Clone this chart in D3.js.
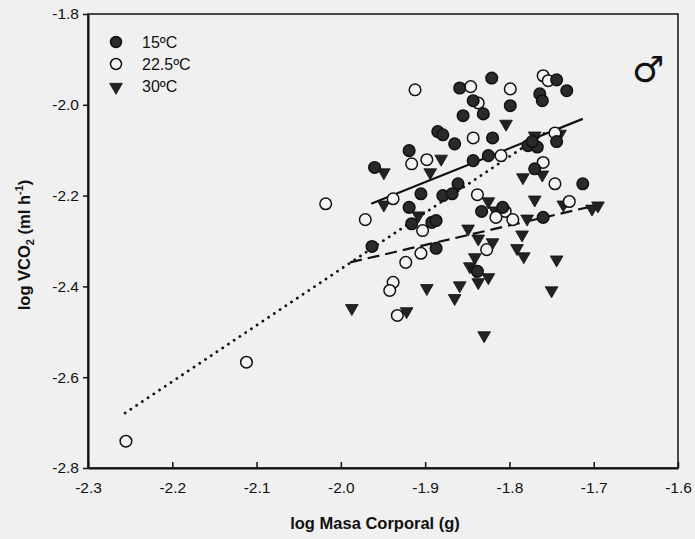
<!DOCTYPE html>
<html>
<head>
  <style>
    body, html { margin: 0; padding: 0; background: #f0f0f0; }
    svg { display: block; }
    text { font-family: "Liberation Sans", Arial, sans-serif; fill: #111; }
  </style>
</head>
<body>
  <svg id="svg" width="695" height="539"></svg>
  <script src="https://d3js.org/d3.v7.min.js"></script>
  <script>
    // log body mass (g) vs log VCO2 (ml h-1)
    const xTicks = [-2.3, -2.2, -2.1, -2.0, -1.9, -1.8, -1.7, -1.6]
    const yTicks = [-2.8, -2.6, -2.4, -2.2, -2.0, -1.8]
    const temps = ["15ºC", "22.5ºC", "30ºC"]

    const t15 = [
      [-1.960, -2.138], [-1.859, -1.963], [-1.821, -1.941], [-1.744, -1.945], [-1.732, -1.969],
      [-1.764, -1.976], [-1.761, -1.991], [-1.843, -1.991], [-1.799, -2.002], [-1.855, -2.024],
      [-1.831, -2.020], [-1.885, -2.059], [-1.879, -2.066], [-1.865, -2.086], [-1.820, -2.073],
      [-1.919, -2.101], [-1.843, -2.123], [-1.825, -2.112], [-1.778, -2.090], [-1.767, -2.093],
      [-1.773, -2.081], [-1.744, -2.081], [-1.770, -2.141], [-1.861, -2.174], [-1.713, -2.174],
      [-1.905, -2.196], [-1.879, -2.200], [-1.868, -2.196], [-1.919, -2.226], [-1.916, -2.262],
      [-1.892, -2.259], [-1.887, -2.255], [-1.833, -2.235], [-1.808, -2.226], [-1.760, -2.248],
      [-1.963, -2.312], [-1.887, -2.316], [-1.838, -2.367]
    ]
    const t225 = [
      [-1.912, -1.967], [-1.846, -1.960], [-1.799, -1.965], [-1.760, -1.936], [-1.754, -1.947],
      [-1.837, -1.996], [-1.843, -2.073], [-1.916, -2.130], [-1.898, -2.121], [-1.810, -2.112],
      [-1.746, -2.062], [-1.760, -2.127], [-1.746, -2.174], [-1.938, -2.207], [-1.838, -2.198],
      [-1.729, -2.213], [-2.018, -2.218], [-1.971, -2.253], [-1.903, -2.277], [-1.805, -2.235],
      [-1.816, -2.248], [-1.796, -2.253], [-1.827, -2.319], [-1.905, -2.327], [-1.923, -2.347],
      [-1.938, -2.391], [-1.942, -2.409], [-1.933, -2.464], [-2.112, -2.567], [-2.255, -2.741]
    ]
    const t30 = [
      [-1.804, -2.042], [-1.881, -2.119], [-1.894, -2.149], [-1.949, -2.149], [-1.770, -2.068],
      [-1.740, -2.064], [-1.761, -2.154], [-1.784, -2.160], [-1.825, -2.213], [-1.770, -2.209],
      [-1.736, -2.220], [-1.702, -2.229], [-1.695, -2.222], [-1.949, -2.220], [-1.908, -2.244],
      [-1.817, -2.233], [-1.779, -2.251], [-1.849, -2.273], [-1.837, -2.295], [-1.820, -2.303],
      [-1.785, -2.286], [-1.791, -2.316], [-1.783, -2.334], [-1.744, -2.341], [-1.841, -2.336],
      [-1.847, -2.356], [-1.841, -2.365], [-1.825, -2.380], [-1.837, -2.391], [-1.859, -2.398],
      [-1.898, -2.404], [-1.865, -2.426], [-1.750, -2.409], [-1.922, -2.455], [-1.830, -2.508],
      [-1.987, -2.448]
    ]

    // fitted lines (endpoints)
    const fit15 = [[-1.964, -2.218], [-1.713, -2.031]]
    const fit225 = [[-2.256, -2.679], [-1.754, -2.057]]
    const fit30 = [[-1.989, -2.347], [-1.689, -2.218]]

    const mLeft = 88, mRight = 678, mTop = 14, mBottom = 468
    const svg = d3.select("#svg")

    const xScale = d3.scaleLinear().domain([-2.3, -1.6]).range([mLeft, mRight])
    const yScale = d3.scaleLinear().domain([-2.8, -1.8]).range([mBottom, mTop])

    // frame
    svg.append("rect")
      .attr("x", mLeft).attr("y", mTop)
      .attr("width", mRight - mLeft).attr("height", mBottom - mTop)
      .attr("fill", "none").attr("stroke", "#111").attr("stroke-width", 1.5)

    // plain hyphen for the minus sign, as in the original
    const fmt = d => d.toFixed(1)
    const xAxis = svg.append("g")
      .attr("transform", `translate(0, ${mBottom})`)
      .call(d3.axisBottom(xScale).tickValues(xTicks).tickFormat(fmt)
        .tickSizeInner(-6).tickSizeOuter(0).tickPadding(14))
    const yAxis = svg.append("g")
      .attr("transform", `translate(${mLeft}, 0)`)
      .call(d3.axisLeft(yScale).tickValues(yTicks).tickFormat(fmt)
        .tickSizeInner(5).tickSizeOuter(0).tickPadding(4))

    for (const ax of [xAxis, yAxis]) {
      ax.select(".domain").attr("stroke", "#111").attr("stroke-width", 2)
      ax.selectAll(".tick line").attr("stroke", "#111").attr("stroke-width", 1.5)
      ax.selectAll(".tick text").attr("font-size", 15.5)
        .style("font-family", "'Liberation Sans', Arial, sans-serif").attr("fill", "#111")
    }

    // axis titles
    svg.append("text")
      .attr("x", 375).attr("y", 529)
      .attr("text-anchor", "middle")
      .attr("font-size", 16.5).attr("font-weight", "bold")
      .text("log Masa Corporal (g)")

    const yTitle = svg.append("text")
      .attr("transform", "translate(30, 245) rotate(-90)")
      .attr("text-anchor", "middle")
      .attr("font-size", 16.5).attr("font-weight", "bold")
    yTitle.append("tspan").text("log VCO")
    yTitle.append("tspan").attr("font-size", 11).attr("dy", 4).text("2")
    yTitle.append("tspan").attr("dy", -4).text(" (ml h")
    yTitle.append("tspan").attr("font-size", 11).attr("dy", -7).text("-1")
    yTitle.append("tspan").attr("dy", 7).text(")")

    // fitted lines
    const lineGen = d3.line().x(d => xScale(d[0])).y(d => yScale(d[1]))
    const plot = svg.append("g")
    plot.append("path").attr("d", lineGen(fit15))
      .attr("stroke", "#111").attr("stroke-width", 2.2).attr("fill", "none")
    plot.append("path").attr("d", lineGen(fit225))
      .attr("stroke", "#111").attr("stroke-width", 2.8).attr("fill", "none")
      .attr("stroke-linecap", "round").attr("stroke-dasharray", "0.1 6.8")
    plot.append("path").attr("d", lineGen(fit30))
      .attr("stroke", "#111").attr("stroke-width", 2.2).attr("fill", "none")
      .attr("stroke-dasharray", "12 6")

    const tri = d3.symbol().type(d3.symbolTriangle).size(70)

    function drawGroup(data, kind) {
      const g = plot.append("g")
      if (kind === "tri") {
        g.selectAll("path").data(data).enter().append("path")
          .attr("d", tri)
          .attr("transform", d => `translate(${xScale(d[0])}, ${yScale(d[1])}) rotate(180)`)
          .attr("fill", "#222").attr("stroke", "#111").attr("stroke-width", 0.8)
      } else {
        g.selectAll("circle").data(data).enter().append("circle")
          .attr("cx", d => xScale(d[0])).attr("cy", d => yScale(d[1]))
          .attr("r", 5.8)
          .attr("fill", kind === "filled" ? "#2a2a2a" : "#f4f4f4")
          .attr("stroke", "#111").attr("stroke-width", 1.5)
      }
    }
    drawGroup(t30, "tri")
    drawGroup(t225, "open")
    drawGroup(t15, "filled")

    // legend
    const legend = svg.append("g").attr("transform", "translate(116, 42)")
    temps.forEach((t, i) => {
      const row = legend.append("g").attr("transform", `translate(0, ${i * 22})`)
      if (i === 2) {
        row.append("path").attr("d", tri).attr("transform", "translate(0,1) rotate(180)")
          .attr("fill", "#222").attr("stroke", "#111").attr("stroke-width", 0.8)
      } else {
        row.append("circle").attr("r", 5.5)
          .attr("fill", i === 0 ? "#2a2a2a" : "#f4f4f4")
          .attr("stroke", "#111").attr("stroke-width", 1.5)
      }
      row.append("text").attr("x", 26).attr("y", 6)
        .attr("font-size", 16).text(t)
    })

    // male symbol
    svg.append("text")
      .attr("x", 632).attr("y", 82)
      .style("font-family", "'DejaVu Sans', sans-serif")
      .attr("font-size", 36)
      .attr("fill", "#333")
      .text("♂")
  </script>
</body>
</html>
